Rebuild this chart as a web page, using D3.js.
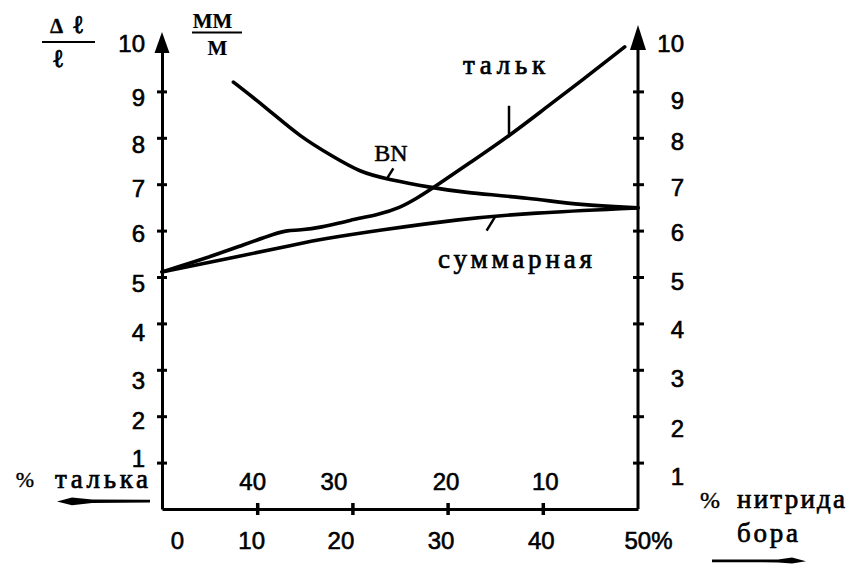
<!DOCTYPE html>
<html>
<head>
<meta charset="utf-8">
<script src="https://cdn.jsdelivr.net/npm/d3@7"></script>
<style>
  html, body { margin: 0; background: #fff; }
  svg { display: block; }
</style>
</head>
<body>
<svg id="chart" width="861" height="567"></svg>
<script>
// Axis values
const bnTicks = [0, 10, 20, 30, 40, 50];              // % нитрида бора
const talcTicks = [40, 30, 20, 10];                   // % талька (50 − % BN)
const yTicks = [1, 2, 3, 4, 5, 6, 7, 8, 9, 10];

// Curves as [% BN, value]
const talcCurve = [[0, 5.11], [5.0, 5.43], [8.5, 5.69], [12.1, 5.95], [13.1, 6.0], [14.5, 6.01],
  [16.6, 6.06], [19.8, 6.23], [22.7, 6.34], [25.0, 6.49], [26.8, 6.70], [28.5, 6.92],
  [32.4, 7.47], [36.6, 8.06], [40.2, 8.63], [44.2, 9.25], [48.6, 9.96]];
const bnCurve = [[7.5, 9.2], [11.0, 8.64], [14.5, 8.02], [18.0, 7.59], [20.8, 7.26], [23.6, 7.11],
  [28.5, 6.92], [31.3, 6.83], [38.7, 6.70], [43.9, 6.55], [50, 6.49]];
const sumCurve = [[0, 5.11], [6.8, 5.39], [14.5, 5.72], [16.6, 5.81], [22.9, 6.01], [31.3, 6.25],
  [38.7, 6.38], [50, 6.49]];

const svg = d3.select("#chart");
const x = d3.scaleLinear().domain([0, 50]).range([162, 638]);
const xTalc = d3.scaleLinear().domain([50, 0]).range([162, 638]);
const y = d3.scaleLinear().domain([0, 10]).range([509, 45]);

const numFont = "'Liberation Sans', Arial, sans-serif";
const serif = "'Liberation Serif', 'Times New Roman', serif";

// ---- axes ----
function styleAxis(g) {
  g.attr("font-size", 24).attr("font-family", numFont);
  g.select(".domain").attr("stroke", "#000").attr("stroke-width", 3);
  g.selectAll(".tick text").attr("fill", "#000")
    .attr("stroke", "#000").attr("stroke-width", 0.6);
}

// hand-set baseline offsets of the value labels on both sides
const leftDy = {10: 6, 9: 14, 8: 15, 7: 12, 6: 11, 5: 14, 4: 17, 3: 19, 2: 12, 1: 4};
const rightDy = {10: 6, 9: 17, 8: 12, 7: 11, 6: 10, 5: 12, 4: 14, 3: 17, 2: 20, 1: 22};

const gL = svg.append("g")
  .attr("transform", `translate(${x(0)},0)`)
  .call(d3.axisLeft(y).tickValues(yTicks).tickSize(0).tickPadding(17))
  .call(styleAxis);
gL.selectAll(".tick line").attr("x1", -5).attr("x2", 5).attr("stroke-width", 3);
gL.selectAll(".tick").filter(d => d === 10).select("line").remove();
gL.selectAll(".tick text").attr("dy", d => leftDy[d]);

const gR = svg.append("g")
  .attr("transform", `translate(${x(50)},0)`)
  .call(d3.axisRight(y).tickValues(yTicks).tickSize(0).tickPadding(46))
  .call(styleAxis);
gR.attr("text-anchor", "end");
gR.selectAll(".tick line").attr("x1", -5).attr("x2", 6).attr("stroke-width", 3);
gR.selectAll(".tick").filter(d => d === 10).select("line").remove();
gR.selectAll(".tick text").attr("dy", d => rightDy[d]);
gR.select(".domain").attr("d", `M0,${y(0)}V${y(10) + 2}`);

const bottomShift = {0: 15, 10: -6, 20: -12, 30: -7, 40: -2, 50: 10};
const gB = svg.append("g")
  .attr("transform", `translate(0,${y(0)})`)
  .call(d3.axisBottom(x).tickValues(bnTicks).tickSize(0)
    .tickFormat(d => d === 50 ? "50%" : d))
  .call(styleAxis);
gB.select(".domain").attr("stroke-width", 2.8);
gB.selectAll(".tick line").attr("y1", -6).attr("y2", 6).attr("stroke-width", 3.5);
gB.selectAll(".tick").filter(d => d === 0 || d === 50).select("line").remove();
gB.selectAll(".tick text").attr("y", 40).attr("dy", 0).attr("dx", d => bottomShift[d]);

const talcShift = {40: -5, 30: -19, 20: -2, 10: 2};
const gT = svg.append("g")
  .attr("transform", `translate(0,${y(0)})`)
  .call(d3.axisTop(xTalc).tickValues(talcTicks).tickSize(0))
  .call(styleAxis);
gT.select(".domain").remove();
gT.selectAll(".tick text").attr("y", -19).attr("dy", 0).attr("dx", d => talcShift[d]);

// arrowheads on the vertical axes
svg.append("path")
  .attr("d", `M${x(0)},${y(10) - 13} L${x(0) + 7.5},${y(10) + 8} L${x(0) - 7.5},${y(10) + 8} Z`)
  .attr("fill", "#000");
svg.append("path")
  .attr("d", `M${x(50)},${y(10) - 20} L${x(50) + 8},${y(10) + 5} L${x(50) - 8},${y(10) + 5} Z`)
  .attr("fill", "#000");

// ---- curves ----
const line = d3.line()
  .x(d => x(d[0]))
  .y(d => y(d[1]))
  .curve(d3.curveBasis);

[talcCurve, bnCurve, sumCurve].forEach(data => {
  svg.append("path")
    .datum(data)
    .attr("d", line)
    .attr("fill", "none")
    .attr("stroke", "#000")
    .attr("stroke-width", 3.6)
    .attr("stroke-linecap", "round")
    .attr("stroke-linejoin", "round");
});

// leader strokes from the curve labels
const leaders = [
  [[36.45, 8.69], [36.45, 8.07]],   // тальк
  [[24.3, 7.34], [23.6, 7.11]],     // BN
  [[34.1, 6.0], [35.0, 6.3]]        // суммарная
];
leaders.forEach(seg => {
  svg.append("path")
    .attr("d", d3.line().x(d => x(d[0])).y(d => y(d[1]))(seg))
    .attr("stroke", "#000").attr("stroke-width", 2.5).attr("fill", "none");
});

// ---- texts ----
function txt(str, px, py, opts = {}) {
  const t = svg.append("text")
    .attr("x", px).attr("y", py)
    .attr("font-family", opts.font || serif)
    .attr("font-size", opts.size || 27)
    .attr("font-weight", opts.weight || "normal")
    .attr("text-anchor", opts.anchor || "start")
    .attr("fill", "#000")
    .attr("stroke", "#000")
    .attr("stroke-width", opts.sw == null ? 0.7 : opts.sw)
    .text(str);
  if (opts.len) t.attr("textLength", opts.len).attr("lengthAdjust", "spacing");
  return t;
}

txt("тальк", 463, 74, {len: 82});
txt("BN", 391, 161, {size: 24, anchor: "middle", sw: 0.5});
txt("суммарная", 438, 268, {len: 154});

txt("%", 25, 487, {size: 22, anchor: "middle", sw: 0.4});
txt("талька", 55, 488, {len: 93});
txt("%", 710, 508, {size: 24, anchor: "middle", sw: 0.4});
txt("нитрида", 737, 508, {len: 108});
txt("бора", 737, 542, {len: 61});

// quantity fractions
txt("Δ", 56.5, 33, {size: 21, weight: "bold", anchor: "middle", sw: 0.3});
txt("ℓ", 78, 33, {size: 25, anchor: "middle", sw: 0.8});
txt("ℓ", 58, 67, {size: 25, anchor: "middle", sw: 0.8});
svg.append("line").attr("x1", 42).attr("x2", 95).attr("y1", 42).attr("y2", 42)
  .attr("stroke", "#000").attr("stroke-width", 2.2);

txt("MM", 212.5, 28, {size: 21, weight: "bold", anchor: "middle", sw: 0.2});
txt("M", 217.5, 55, {size: 21, weight: "bold", anchor: "middle", sw: 0.2});
svg.append("line").attr("x1", 192).attr("x2", 242).attr("y1", 32.5).attr("y2", 32.5)
  .attr("stroke", "#000").attr("stroke-width", 2.2);

// direction arrows under the axis captions
svg.append("path")
  .attr("d", "M150,499.8 L92,499.6 L72,497.6 L57,501.6 L72,505.2 L92,503.1 L150,502.4 Z")
  .attr("fill", "#000");
svg.append("path")
  .attr("d", "M712,559.6 L778,559.4 L792,557.6 L806,561.2 L792,563.6 L778,562.4 L712,562.2 Z")
  .attr("fill", "#000");
</script>
</body>
</html>
